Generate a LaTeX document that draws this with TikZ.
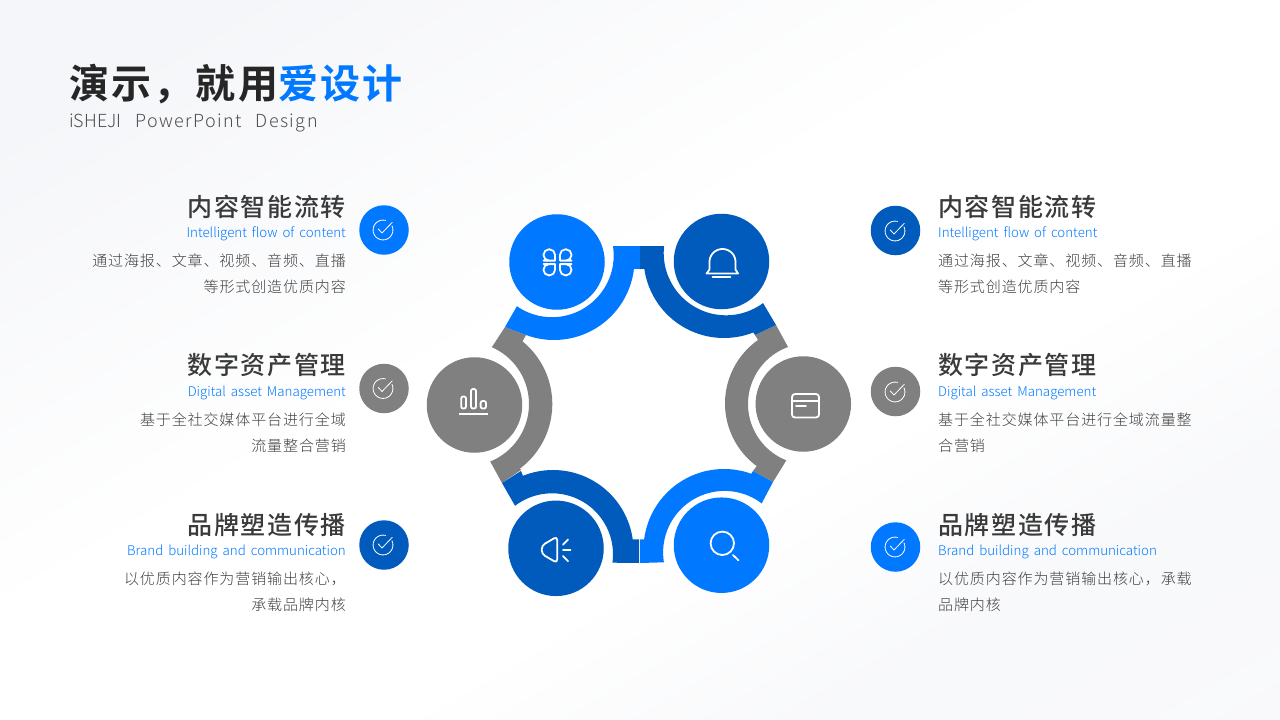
\documentclass[tikz,border=0pt]{standalone}
\usepackage{fontspec}
\newfontfamily\cjktitle{Noto Sans CJK SC Bold}[LetterSpace=5.6]
\newfontfamily\cjkhead{Noto Sans CJK SC Medium}[LetterSpace=6.5]
\newfontfamily\cjkbody{Noto Sans CJK SC Light}[LetterSpace=6]
\newfontfamily\cjksub{Noto Sans CJK SC Light}[LetterSpace=8,WordSpace=2.5]
\newfontfamily\cjksubtight{Noto Sans CJK SC Light}[LetterSpace=0]
\newfontfamily\cjken{Noto Sans CJK SC Light}[WordSpace=1.7]
\definecolor{brandblue}{RGB}{0,120,255}
\definecolor{branddark}{RGB}{0,91,189}
\definecolor{brandgray}{RGB}{128,128,128}
\definecolor{headcol}{RGB}{58,58,58}
\definecolor{bodycol}{RGB}{64,64,64}
\definecolor{titlecol}{RGB}{38,38,38}
\definecolor{subcol}{RGB}{80,80,80}
\definecolor{bgedge}{RGB}{245,246,249}
\pgfdeclarehorizontalshading{bgshade}{100bp}{color(0bp)=(bgedge);color(22bp)=(bgedge);color(45bp)=(white);color(60bp)=(white);color(72bp)=(bgedge!70!white);color(82bp)=(white!40!bgedge);color(100bp)=(bgedge)}
\tikzset{
  hub/.style={circle,minimum size=95.5pt,inner sep=0pt,draw=none},
  badge/.style={circle,minimum size=49.5pt,inner sep=0pt,draw=none},
  icon/.style={draw=white,line width=1.8pt,line join=round,line cap=round},
  chk/.style={draw=white,line width=0.8pt,line join=round,line cap=round},
  headL/.style={anchor=base east,inner sep=0pt,text=headcol,font=\cjkhead\fontsize{25}{30}\selectfont},
  headR/.style={anchor=base west,inner sep=0pt,text=headcol,font=\cjkhead\fontsize{25}{30}\selectfont},
  enL/.style={anchor=base east,inner sep=0pt,text=brandblue,font=\cjken\fontsize{13.3}{18}\selectfont},
  enR/.style={anchor=base west,inner sep=0pt,text=brandblue,font=\cjken\fontsize{13.3}{18}\selectfont},
  bodyL/.style={anchor=north east,inner sep=0pt,align=right,text=bodycol,font=\cjkbody\fontsize{15}{25.7}\selectfont},
  bodyR/.style={anchor=north west,inner sep=0pt,align=left,text=bodycol,font=\cjkbody\fontsize{15}{25.7}\selectfont},
}
\newcommand{\chk}[2]{%
  \begin{scope}[shift={(#1,#2)}]
    \draw[chk] plot[domain=-25:285,samples=40] ({-1+9.9*cos(\x)},{9.9*sin(\x)});
    \draw[chk] (-5.7,-1) -- (-2,3) -- (8.3,-7.7);
  \end{scope}}
\begin{document}
\begin{tikzpicture}[x=1pt,y=-1pt]
\useasboundingbox (0,0) rectangle (1280,720);
\fill[shading=bgshade,shading angle=-60] (0,0) rectangle (1280,720);

% ring bands
\fill[brandgray] (776,325) -- (788,347) -- plot[domain=250.1:111.6,samples=40] ({808.6+60.6*cos(\x)},{404+60.6*sin(\x)}) -- (773,482) -- (753,471) -- (756,467) -- plot[domain=126.3:234.9,samples=40] ({802.6+77.6*cos(\x)},{403.5+77.6*sin(\x)}) -- (755,335) -- cycle;
\fill[brandgray] (505,327) -- (492,347) -- plot[domain=-66.3:68,samples=40] ({467+62*cos(\x)},{404+62*sin(\x)}) -- (502,483) -- (521,470) -- plot[domain=53.2:-50.9,samples=40] ({471.6+80.7*cos(\x)},{404+80.7*sin(\x)}) -- (526,335) -- cycle;
\fill[brandblue] (640,246) -- (613,246) -- plot[domain=-8.85:124.7,samples=40] ({552+61.7*cos(\x)},{255.5+61.7*sin(\x)}) -- (505,327) -- (526,335) -- plot[domain=110.35:6.77,samples=40] ({554+80.5*cos(\x)},{259.5+80.5*sin(\x)}) -- (640,269) -- cycle;
\fill[branddark] (640,246) -- (664,246) -- plot[domain=186.44:53.5,samples=40] ({726+62.3*cos(\x)},{253+62.3*sin(\x)}) -- (776,325) -- (755,335) -- (753,332) -- plot[domain=68.7:171.8,samples=40] ({724+80.5*cos(\x)},{257.5+80.5*sin(\x)}) -- (640,269) -- cycle;
\fill[brandblue] (640,563) -- (664,562.3) -- plot[domain=170.7:307.1,samples=40] ({724.6+61.5*cos(\x)},{552.4+61.5*sin(\x)}) -- (773,482) -- (753,471) -- (751,474) -- plot[domain=289.7:187.2,samples=40] ({724+80.5*cos(\x)},{549.5+80.5*sin(\x)}) -- (640,539.3) -- cycle;
\fill[branddark] (639,563) -- (613.3,562.7) -- plot[domain=7.8:-127.3,samples=40] ({552+61*cos(\x)},{554.3+61*sin(\x)}) -- (502,483) -- (521,471) -- (523,476) -- plot[domain=-111.9:-7.9,samples=40] ({553+80.5*cos(\x)},{550.5+80.5*sin(\x)}) -- (639,539.3) -- cycle;

% hubs
\node[hub,fill=brandblue] (hubA) at (557,262) {};
\node[hub,fill=branddark] (hubB) at (721.5,261.5) {};
\node[hub,fill=brandgray] (hubC) at (474.5,405) {};
\node[hub,fill=brandgray] (hubD) at (803.3,404) {};
\node[hub,fill=branddark] (hubE) at (556,548.3) {};
\node[hub,fill=brandblue] (hubF) at (721.5,545.2) {};

% clover icon
\draw[icon,rounded corners=5.5pt] (555,255) -- (555,249.3) -- (543.5,249.3) -- (543.5,260.6) -- (549,260.6) [sharp corners] -- (555,260.6) -- cycle;
\draw[icon,rounded corners=5.5pt] (560,255) -- (560,249.3) -- (571.5,249.3) -- (571.5,260.6) -- (566,260.6) [sharp corners] -- (560,260.6) -- cycle;
\draw[icon,rounded corners=5.5pt] (555,270) -- (555,275.4) -- (543.5,275.4) -- (543.5,264.1) -- (549,264.1) [sharp corners] -- (555,264.1) -- cycle;
\draw[icon,rounded corners=5.5pt] (560,270) -- (560,275.4) -- (571.5,275.4) -- (571.5,264.1) -- (566,264.1) [sharp corners] -- (560,264.1) -- cycle;
% bell icon
\draw[icon] (706.5,273.5) -- (738,273.5) -- (735.5,269.5) -- (735.5,262) -- plot[domain=0:-180,samples=30] ({722.5+13*cos(\x)},{262+13*sin(\x)}) -- (709.5,269.5) -- cycle;
\draw[icon] (712.5,277) -- (730.5,277);
% bars icon
\draw[icon,rounded corners=2pt] (461.2,396.5) rectangle (466,408.5);
\draw[icon,rounded corners=2pt] (471,389) rectangle (476,408.5);
\draw[icon,rounded corners=2pt] (480.6,401) rectangle (486,408.5);
\draw[icon,line cap=butt] (459,413.7) -- (488,413.7);
% card icon
\draw[icon,rounded corners=3pt] (792,394) rectangle (819,417.5);
\draw[icon] (792,400.7) -- (819,400.7);
\draw[icon] (796,406.3) -- (806,406.3);
% speaker icon
\draw[icon,rounded corners=3.5pt] (557.2,536.5) -- (541.8,545.5) -- (541.8,554) -- (557.2,563) -- cycle;
\draw[icon] (563,544.7) -- (568,539.5);
\draw[icon] (563,550.3) -- (570.5,550.3);
\draw[icon] (563,556) -- (568,561.2);
% magnifier icon
\draw[icon] (722.3,543.3) circle[radius=11.7pt];
\draw[icon] (732.9,555) -- (738.5,560.3);

% badges
\node[badge,fill=brandblue] (bL1) at (384,230) {};
\node[badge,fill=brandgray] (bL2) at (384,388.5) {};
\node[badge,fill=branddark] (bL3) at (384,545) {};
\node[badge,fill=branddark] (bR1) at (895.5,230.5) {};
\node[badge,fill=brandgray] (bR2) at (895.5,391.5) {};
\node[badge,fill=brandblue] (bR3) at (895.5,547) {};
\chk{384}{230}\chk{384}{388.5}\chk{384}{545}
\chk{896}{231}\chk{896}{392}\chk{896}{547}

% title
\node[anchor=base west,inner sep=0pt,text=titlecol,font=\cjktitle\fontsize{40}{48}\selectfont] (title) at (69,98) {演示，就用\textcolor{brandblue}{爱设计}};
\node[anchor=base west,inner sep=0pt,text=subcol,font=\cjksub\fontsize{18}{22}\selectfont] (sub) at (69,127) {{\cjksubtight iSHEJI} PowerPoint Design};

% left texts
\node[headL] (hL1) at (346,216) {内容智能流转};
\node[enL] (eL1) at (346,237) {Intelligent flow of content};
\node[bodyL] (tL1) at (346,254) {通过海报、文章、视频、音频、直播\\等形式创造优质内容};
\node[headL] (hL2) at (346,374) {数字资产管理};
\node[enL] (eL2) at (346,396) {Digital asset Management};
\node[bodyL] (tL2) at (346,413) {基于全社交媒体平台进行全域\\流量整合营销};
\node[headL] (hL3) at (346,534) {品牌塑造传播};
\node[enL] (eL3) at (346,555) {Brand building and communication};
\node[bodyL] (tL3) at (346,572) {以优质内容作为营销输出核心，\\承载品牌内核};

% right texts
\node[headR] (hR1) at (938,216) {内容智能流转};
\node[enR] (eR1) at (938,237) {Intelligent flow of content};
\node[bodyR] (tR1) at (938,254) {通过海报、文章、视频、音频、直播\\等形式创造优质内容};
\node[headR] (hR2) at (938,374) {数字资产管理};
\node[enR] (eR2) at (938,396) {Digital asset Management};
\node[bodyR] (tR2) at (938,413) {基于全社交媒体平台进行全域流量整\\合营销};
\node[headR] (hR3) at (938,534) {品牌塑造传播};
\node[enR] (eR3) at (938,555) {Brand building and communication};
\node[bodyR] (tR3) at (938,572) {以优质内容作为营销输出核心，承载\\品牌内核};
\end{tikzpicture}
\end{document}
